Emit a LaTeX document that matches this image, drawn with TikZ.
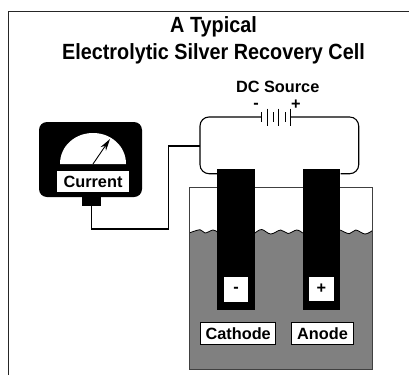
\documentclass[tikz,border=0pt]{standalone}
\usepackage{fontspec}
\setmainfont{Liberation Sans}
\newfontfamily\titlefont[FakeStretch=.9]{Liberation Sans}
\usepackage{tikz}
\usetikzlibrary{arrows.meta}

\begin{document}
\begin{tikzpicture}[
	x=1pt, y=-1pt,
	every node/.style={
		inner sep=0pt,
		align=center,
		font=\bfseries\fontsize{16.3}{18}\selectfont
	},
	block/.style={fill=black, minimum width=#1},
	electrode/.style={block=37.6pt, minimum height=141pt},
	tag/.style={
		fill=white, draw=black, line width=.8pt,
		minimum width=#1, minimum height=22pt
	},
	cell/.style={fill=white, minimum width=24.4pt, minimum height=24.4pt},
	wire/.style={line width=1.1pt, rounded corners=9pt},
	leadwire/.style={line width=1.9pt},
	plate/.style={line width=1pt},
	surface/.style={line width=.8pt}
]
\useasboundingbox (0,0) rectangle (409,375);

% frame, open on two sides
\draw[line width=1pt, black!85] (8.5,375) -- (8.5,11.5) -- (409,11.5);

\node[font=\titlefont\bfseries\fontsize{22}{27}\selectfont] (title) at (213.5,40) {A Typical\\Electrolytic Silver Recovery Cell};

% tank with liquid
\fill[black!50] (189.3,369) -- (189.3,233)
	-- plot[smooth, tension=.6] coordinates {(189.3,233) (200,229.7) (205,233) (213,230) (217.3,232)}
	-- plot[smooth, tension=.6] coordinates {(255,233) (261.7,229.5) (270.7,234) (280.7,230) (288,233.5) (296.7,230) (302.7,233)}
	-- plot[smooth, tension=.6] coordinates {(340.3,230) (349.3,233.7) (355.7,230) (365,234) (372.3,230.6)}
	-- (372.3,369) -- cycle;
\draw[surface] plot[smooth, tension=.6] coordinates {(189.3,233) (200,229.7) (205,233) (213,230) (217.3,232)};
\draw[surface] plot[smooth, tension=.6] coordinates {(255,233) (261.7,229.5) (270.7,234) (280.7,230) (288,233.5) (296.7,230) (302.7,233)};
\draw[surface] plot[smooth, tension=.6] coordinates {(340.3,230) (349.3,233.7) (355.7,230) (365,234) (372.3,230.6)};
\draw[line width=1pt, black!75] (189.3,187.3) rectangle (372.3,369);

% electrodes
\node[electrode] (cathode) at (236.1,239.8) {};
\node[electrode] (anode) at (321.5,239.8) {};
\node[cell] (minus) at (236.1,289.5) {-};
\node[cell] (plus) at (321.5,289) {+};
\node[tag=75pt] (cathodetag) at (238.2,333.5) {Cathode};
\node[tag=62.4pt] (anodetag) at (322.5,333.5) {Anode};

% battery
\node (source) at (277.7,87) {DC Source};
\node (neg) at (256,105.5) {-};
\node (pos) at (296,105) {+};
\coordinate (batleft) at (261,117);
\coordinate (batright) at (290.3,117);
\coordinate (tap) at (200,145.7);
\draw[plate] (261,112) -- (261,121.7);
\draw[plate] (267.5,108.7) -- (267.5,125.7);
\draw[plate] (273,112) -- (273,122);
\draw[plate] (278.7,108.7) -- (278.7,125.7);
\draw[plate] (285,112) -- (285,122);
\draw[plate] (290.3,108.7) -- (290.3,125.7);

% circuit
\draw[wire] (batleft) -- (200,117) -- (200,173.7) -- (cathode.west |- 0,173.7);
\draw[wire] (batright) -- (358.7,117) -- (358.7,173.7) -- (anode.east |- 0,173.7);

% meter
\node[block=103pt, minimum height=75pt, rounded corners=8pt] (meter) at (90.5,159.5) {};
\node[block=19pt, minimum height=9pt] (plug) at (91.5,201.5) {};
\fill[white] (60,164) .. controls (60,146) and (75,133) .. (93,133)
	.. controls (111,133) and (126,146) .. (126,164) -- cycle;
\node[fill=white, minimum width=72pt, minimum height=21pt] (current) at (93,181.5) {Current};
\coordinate (pivot) at (93,164);
\coordinate (needle) at (110,139);
\draw[line width=.9pt, -{Stealth[length=12pt,width=6.5pt]}] (pivot) -- (needle);
\draw[leadwire] (plug.south) |- (168.5,228.7) |- (tap);
\end{tikzpicture}
\end{document}
